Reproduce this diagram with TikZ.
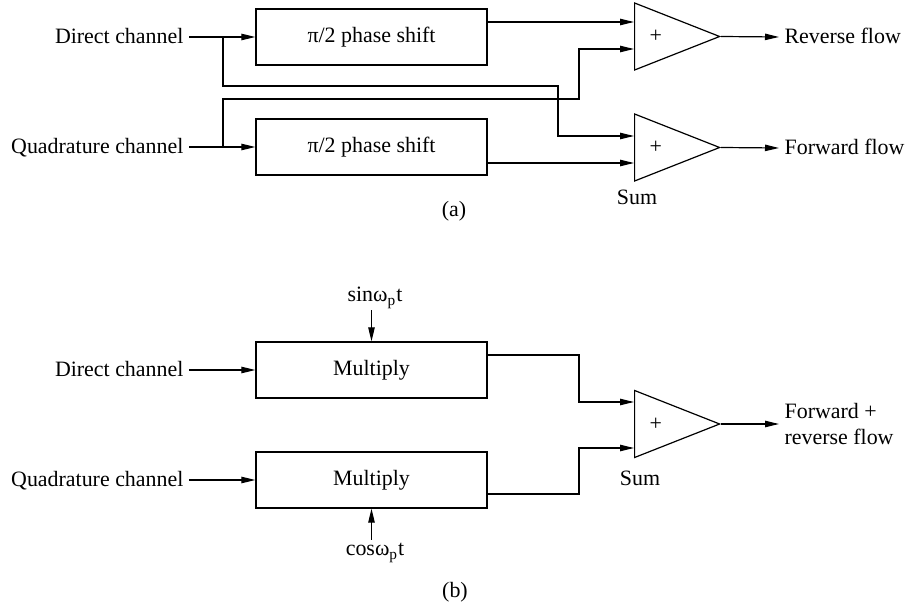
\documentclass[tikz,border=0pt]{standalone}
\usepackage{fontspec}
\setmainfont{Liberation Serif}
\usetikzlibrary{positioning,arrows.meta,shapes.geometric}

\begin{document}
\begin{tikzpicture}[
  x=0.5bp, y=-0.5bp,
  font=\fontsize{11}{13}\selectfont,
  line width=0.6bp,
  box/.style={draw, minimum width=115.5bp, minimum height=28bp, inner sep=0pt},
  tri/.style={draw, isosceles triangle, isosceles triangle stretches, minimum width=33.5bp, minimum height=42.5bp, inner sep=0pt},
  lbl/.style={inner sep=2.5bp, text height=1.5ex, text depth=0pt},
  arrow/.style={-{Triangle[length=7bp,width=3.2bp]}}
]
\useasboundingbox (0,0) rectangle (908,605);

% (a) separation with phase shifters
\node[box] (ps1) at (371.5,37) {π/2 phase shift};
\node[box] (ps2) at (371.5,147) {π/2 phase shift};
\node[lbl, anchor=east] (dir1) at (189,37) {Direct channel};
\node[lbl, anchor=east] (quad1) at (189,147) {Quadrature channel};
\node[tri, anchor=west] (sum1) at (634,36.5) {};
\node[tri, anchor=west] (sum2) at (634,147.5) {};
\node[inner sep=0pt, right=7.5bp of sum1.west] (plus1) {+};
\node[inner sep=0pt, right=7.5bp of sum2.west] (plus2) {+};
\node[lbl, anchor=west] (rev) at (779,37) {Reverse flow};
\node[lbl, anchor=west] (fwd) at (779,148) {Forward flow};
\node (suma) at (637,197) {Sum};
\node (capa) at (454,211) {(a)};
\coordinate (ja) at (223,37);
\coordinate (jb) at (223,147);
\coordinate (a1t) at (634,22);
\coordinate (a1b) at (634,49);
\coordinate (a2t) at (634,136);
\coordinate (a2b) at (634,163);
\draw[arrow] (dir1.east) -- (ps1.west);
\draw[arrow] (quad1.east) -- (ps2.west);
\draw[arrow] (ja) |- (558,86) |- (a2t);
\draw[arrow] (jb) |- (579,99) |- (a1b);
\draw[arrow] (ps1.east |- a1t) -- (a1t);
\draw[arrow] (ps2.east |- a2b) -- (a2b);
\draw[arrow] (sum1.east) -- (rev.west);
\draw[arrow] (sum2.east) -- (fwd.west);

% (b) separation with multipliers
\node[box] (mul1) at (371.5,370) {Multiply};
\node[box] (mul2) at (371.5,480) {Multiply};
\node[lbl, anchor=east] (dir2) at (189,370) {Direct channel};
\node[lbl, anchor=east] (quad2) at (189,480) {Quadrature channel};
\node (sin) at (375,298) {sinω\textsubscript{p}t};
\node (cos) at (375,553) {cosω\textsubscript{p}t};
\node[tri, anchor=west] (sum3) at (634,424) {};
\node[inner sep=0pt, right=7.5bp of sum3.west] (plus3) {+};
\node[anchor=west, align=left, inner sep=2.5bp] (both) at (779,424) {Forward +\\reverse flow};
\node (sumb) at (640,478) {Sum};
\node (capb) at (455,592) {(b)};
\coordinate (b1t) at (634,402);
\coordinate (b1b) at (634,448);
\draw[arrow] (dir2.east) -- (mul1.west);
\draw[arrow] (quad2.east) -- (mul2.west);
\draw[arrow] ([yshift=15.5bp]mul1.north) -- (mul1.north);
\draw[arrow] ([yshift=-15.5bp]mul2.south) -- (mul2.south);
\draw[arrow] ([yshift=7.5bp]mul1.east) -| (579,402) -- (b1t);
\draw[arrow] ([yshift=-7bp]mul2.east) -| (579,448) -- (b1b);
\draw[arrow] (sum3.east) -- (both.west);
\end{tikzpicture}
\end{document}
